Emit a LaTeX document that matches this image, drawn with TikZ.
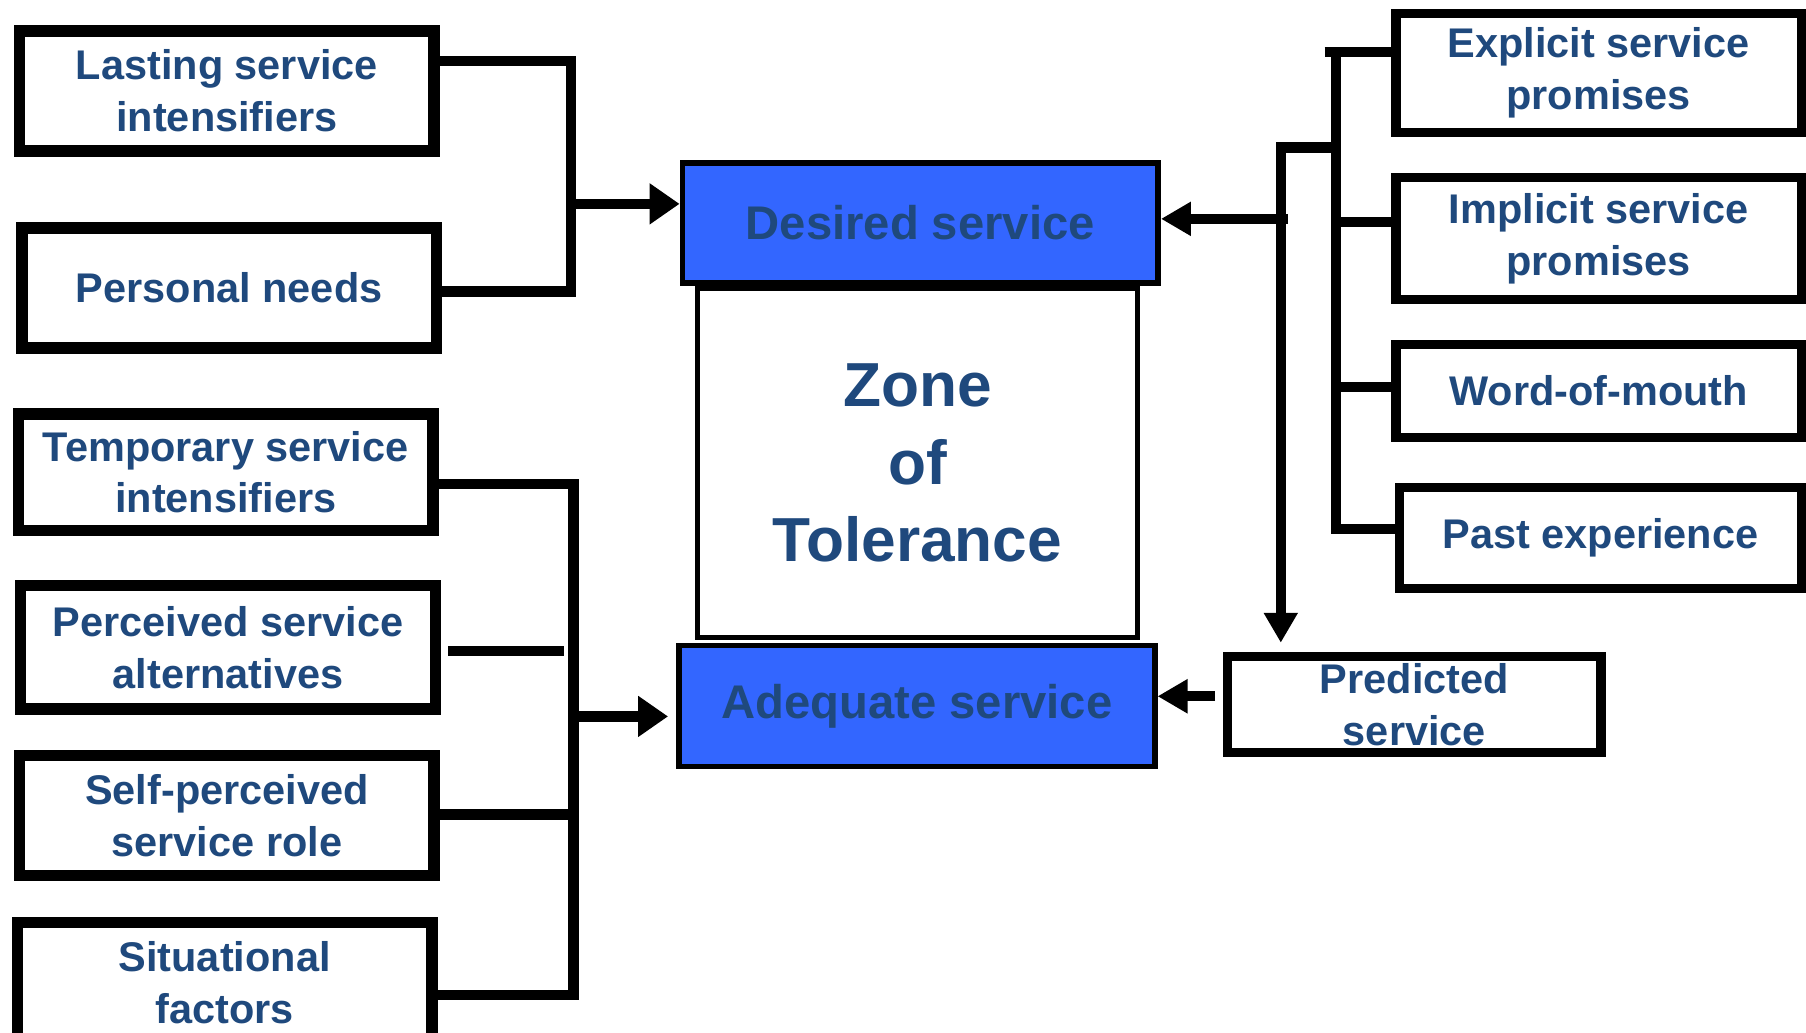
\documentclass[tikz,border=0pt]{standalone}
\usepackage{fontspec}
\setmainfont{Liberation Sans}
\usetikzlibrary{arrows.meta}
\definecolor{textnavy}{HTML}{1F497D}
\definecolor{fillblue}{HTML}{3366FF}

\begin{document}
\begin{tikzpicture}[x=0.5pt,y=-0.5pt,
      factor/.style={draw,line width=5pt,fill=white,inner sep=0pt,
        minimum width=180pt,minimum height=52pt,align=center,text=textnavy,
        font=\fontsize{18pt}{22.5pt}\selectfont\bfseries},
      cue/.style={factor,line width=4pt},
      bluebox/.style={draw,line width=2.5pt,fill=fillblue,inner sep=0pt,
        minimum width=206.5pt,minimum height=52pt,text=textnavy,
        font=\fontsize{20.5pt}{25pt}\selectfont\bfseries},
      zonebox/.style={draw,line width=2.5pt,inner sep=0pt,
        minimum width=191pt,minimum height=151.5pt,align=center,text=textnavy,
        font=\fontsize{27pt}{33.5pt}\selectfont\bfseries},
      link/.style={line width=4.5pt},
      arr/.style={link,-{Triangle[length=13pt,width=#1]}},
      arr/.default=14pt]
  \path[use as bounding box] (0,0) rectangle (1568,896);
  \clip (0,0) rectangle (1568,896);

  % left column
  \node[factor] (lasting) at (197,79) {Lasting service\\intensifiers};
  \node[factor] (personal) at (199,250) {Personal needs};
  \node[factor,minimum height=50.5pt] (temporary) at (196,410) {Temporary service\\intensifiers};
  \node[factor,minimum height=53.5pt] (perceived) at (198,562) {Perceived service\\alternatives};
  \node[factor] (selfrole) at (197,708) {Self-perceived\\service role};
  \node[factor] (situational) at (195,853) {Situational\\factors};

  % middle
  \node[zonebox] (zone) at (796.5,402) {Zone\\of\\Tolerance};
  \node[bluebox] (desired) at (799,193.5) {Desired service};
  \node[bluebox,minimum height=52.5pt] (adequate) at (796,613) {Adequate service};

  % right column
  \node[cue,minimum width=176pt,minimum height=51.5pt] (explicit) at (1388,63.5) {Explicit service\\promises};
  \node[cue,minimum width=176pt,minimum height=53pt] (implicit) at (1388,207) {Implicit service\\promises};
  \node[cue,minimum width=176pt,minimum height=40.5pt] (wordmouth) at (1388,339.5) {Word-of-mouth};
  \node[cue,minimum width=174.5pt,minimum height=44pt] (past) at (1389.5,467) {Past experience};
  \node[cue,minimum width=162pt,minimum height=41.5pt] (predicted) at (1228,611.5) {Predicted\\service};

  % left connectors
  \coordinate (ltop) at (496,53);
  \coordinate (lbot) at (496,253);
  \coordinate (lmid) at (496,177);
  \draw[link] (lasting.east |- ltop) -- (ltop) -- (lbot) -- (personal.east |- lbot);
  \draw[arr=17pt] (lmid) -- (desired.west |- lmid);

  \coordinate (btop) at (498,420);
  \coordinate (bbot) at (498,864);
  \coordinate (bself) at (498,707);
  \coordinate (bmid) at (498,622);
  \coordinate (bgap) at (490,565);
  \draw[link] (temporary.east |- btop) -- (btop) -- (bbot) -- (situational.east |- bbot);
  \draw[link] (selfrole.east |- bself) -- (bself);
  \draw[link] ([xshift=3pt]perceived.east |- bgap) -- (bgap);
  \draw[arr=17pt,shorten >=3.5pt] (bmid) -- (adequate.west |- bmid);

  % right connectors
  \coordinate (rtop) at (1160,45);
  \coordinate (rimp) at (1160,193);
  \coordinate (rwom) at (1160,336);
  \coordinate (rbot) at (1160,459);
  \coordinate (rjoin) at (1160,128);
  \coordinate (rdrop) at (1112,128);
  \coordinate (rfeed) at (1118,190);
  \draw[link] ([xshift=-5pt]rtop) -- (explicit.west |- rtop);
  \draw[link] (rtop) -- (rbot) -- (past.west |- rbot);
  \draw[link] (rimp) -- (implicit.west |- rimp);
  \draw[link] (rwom) -- (wordmouth.west |- rwom);
  \draw[arr,shorten >=4pt] (rjoin) -- (rdrop) -- (predicted.north -| rdrop);
  \draw[arr] (rfeed) -- (desired.east |- rfeed);
  \coordinate (pfeed) at ([xshift=-3.5pt,yshift=3.5pt]predicted.west);
  \draw[arr] (pfeed) -- (adequate.east |- pfeed);
\end{tikzpicture}
\end{document}
